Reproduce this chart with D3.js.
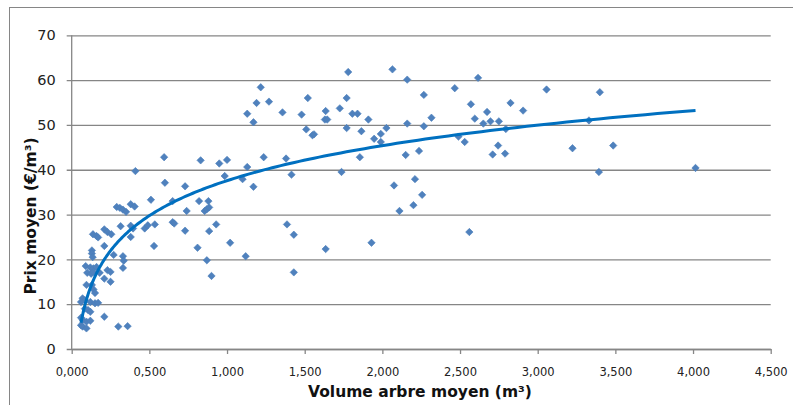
<!DOCTYPE html>
<html>
<head>
<meta charset="utf-8">
<script src="https://cdn.jsdelivr.net/npm/d3@7/dist/d3.min.js"></script>
<style>
  html, body { margin: 0; padding: 0; background: #fff; }
  svg { display: block; }
</style>
</head>
<body>
<svg id="chart" width="793" height="405"></svg>
<script>
// ---- data ----
const volume = [
  0.06,0.07,0.095,0.06,0.07,0.095,0.12,0.085,0.105,0.12,
  0.07,0.085,0.06,0.12,0.15,0.17,0.095,0.13,0.14,0.15,
  0.09,0.12,0.14,0.16,0.10,0.125,0.14,0.18,0.13,0.13,
  0.135,0.137,0.16,0.17,0.21,0.23,0.255,0.21,0.27,0.23,
  0.25,0.21,0.25,0.21,0.30,0.36,
  0.33,0.335,0.33,0.315,0.29,0.31,0.33,0.35,0.38,0.405,
  0.38,0.395,0.38,0.47,0.49,0.535,0.53,0.51,0.41,0.595,
  0.60,0.65,0.65,0.66,0.73,0.74,0.73,0.81,0.82,0.83,
  0.856,0.87,0.885,0.88,0.885,0.93,0.87,0.90,0.95,1.00,
  0.985,1.02,1.12,1.10,1.13,1.17,1.236,1.13,1.17,1.19,
  1.217,1.27,1.357,1.38,1.415,1.386,1.43,1.43,1.48,1.52,
  1.51,1.55,1.56,1.635,1.63,1.645,1.635,1.726,1.77,1.78,
  1.77,1.737,1.807,1.84,1.855,1.865,1.91,1.947,1.99,1.99,
  2.026,1.93,2.065,2.075,2.11,2.16,2.16,2.15,2.20,2.21,
  2.236,2.256,2.267,2.267,2.316,2.466,2.49,2.53,2.56,2.57,
  2.595,2.616,2.65,2.674,2.696,2.75,2.795,2.745,2.71,2.79,
  2.825,2.906,3.057,3.224,3.33,3.40,3.394,3.486,4.016
];
const prix = [
  5.3,5.0,4.6,7.0,6.5,6.1,6.3,9.0,8.7,8.3,
  11.3,10.9,10.5,10.5,10.2,10.3,14.3,14.3,13.3,12.5,
  18.5,18.2,18.0,18.3,17.0,16.8,17.2,17.0,22.0,21.3,
  20.5,25.6,25.2,24.9,26.7,26.1,25.6,23.0,21.0,17.6,
  17.2,15.7,15.0,7.2,5.0,5.1,
  20.7,19.7,18.1,27.4,31.7,31.5,31.1,30.6,32.3,31.8,
  27.5,26.9,25.0,26.9,27.6,27.8,23.0,33.3,39.7,42.8,
  37.1,33.0,28.3,28.0,36.3,30.8,26.4,22.6,33.0,42.1,
  30.8,31.2,31.6,33.0,26.3,27.8,19.8,16.3,41.4,42.2,
  38.6,23.7,20.7,37.9,40.6,36.2,42.8,52.5,50.6,54.9,
  58.4,55.2,52.8,42.5,38.9,27.8,25.5,17.1,52.3,56.0,
  49.0,47.7,47.9,53.1,51.2,51.2,22.3,53.7,56.0,61.8,
  49.3,39.5,52.5,52.5,42.8,48.6,51.2,46.9,46.2,48.0,
  49.3,23.7,62.4,36.5,30.8,60.1,50.3,43.3,32.1,37.9,
  44.2,34.4,56.7,49.7,51.6,58.2,47.4,46.2,26.1,54.6,
  51.4,60.5,50.3,52.9,50.8,50.8,49.1,45.4,43.4,43.6,
  54.9,53.2,57.9,44.8,51.0,57.3,39.5,45.4,40.4
];
const xTicks = [0, 0.5, 1, 1.5, 2, 2.5, 3, 3.5, 4, 4.5];
const yTicks = [0, 10, 20, 30, 40, 50, 60, 70];
const xTitle = "Volume arbre moyen (m³)";
const yTitle = "Prix moyen (€/m³)";

const points = volume.map((v, i) => ({ x: v, y: prix[i] }));

// logarithmic trend line (least squares of y on ln x), as the spreadsheet does
const lx = points.map(p => Math.log(p.x));
const n = points.length;
const mx = d3.mean(lx), my = d3.mean(points, p => p.y);
let sxy = 0, sxx = 0;
for (let i = 0; i < n; i++) { sxy += (lx[i] - mx) * (points[i].y - my); sxx += (lx[i] - mx) ** 2; }
const slope = sxy / sxx, intercept = my - slope * mx;
const [xmin, xmax] = d3.extent(volume);
const trend = d3.range(0, 201).map(i => {
  const xv = xmin * Math.pow(xmax / xmin, i / 200);
  return { x: xv, y: slope * Math.log(xv) + intercept };
});

// ---- layout ----
const svg = d3.select("#chart");
const pLeft = 71.7, pRight = 770.7, pTop = 35.3, pBottom = 349;
const x = d3.scaleLinear().domain([0, 4.5]).range([pLeft, pRight]);
const y = d3.scaleLinear().domain([0, 70]).range([pBottom, pTop]);
const grey = "#868686";
const fmt = d => d.toFixed(3).replace(".", ",");

// outer chart border
svg.append("rect").attr("x", 9.5).attr("y", 7.5).attr("width", 900).attr("height", 500)
  .attr("fill", "none").attr("stroke", grey).attr("stroke-width", 1);

// y axis with gridlines
const yAxis = svg.append("g").attr("transform", `translate(${pLeft},0)`)
  .call(d3.axisLeft(y).tickValues(yTicks).tickSize(-(pRight - pLeft)).tickSizeOuter(0).tickPadding(11).tickFormat(d3.format("d")));
yAxis.select(".domain").remove();
yAxis.selectAll(".tick line").attr("stroke", grey).attr("stroke-width", 1.3).attr("x1", -5);
yAxis.selectAll(".tick text").attr("font-family", "DejaVu Sans, Verdana, sans-serif")
  .attr("font-size", 14.5).attr("fill", "#222").attr("x", -16);

// x axis
const xAxis = svg.append("g").attr("transform", `translate(0,${pBottom})`)
  .call(d3.axisBottom(x).tickValues(xTicks).tickSize(5).tickSizeOuter(0).tickPadding(14).tickFormat(fmt));
xAxis.select(".domain").attr("stroke", grey).attr("stroke-width", 1.3);
xAxis.selectAll(".tick line").attr("stroke", grey).attr("stroke-width", 1.3);
xAxis.selectAll(".tick text").attr("font-family", "DejaVu Sans, Verdana, sans-serif")
  .attr("font-size", 11.5).attr("fill", "#222");

// y axis line
svg.append("line").attr("x1", pLeft).attr("x2", pLeft).attr("y1", pTop).attr("y2", pBottom)
  .attr("stroke", grey).attr("stroke-width", 1.3);

// points
const diamond = "M0,-3.7L3.7,0L0,3.7L-3.7,0Z";
svg.append("g").selectAll("path").data(points).join("path")
  .attr("d", diamond)
  .attr("transform", d => `translate(${x(d.x)},${y(d.y)})`)
  .attr("fill", "#4f81bd").attr("stroke", "#4a7ebb").attr("stroke-width", 0.6);

// trend line
svg.append("path").datum(trend)
  .attr("d", d3.line().x(d => x(d.x)).y(d => y(d.y)))
  .attr("fill", "none").attr("stroke", "#0070c0").attr("stroke-width", 3);

// titles
svg.append("text").attr("x", 420).attr("y", 397).attr("text-anchor", "middle")
  .attr("font-family", "DejaVu Sans, Verdana, sans-serif").attr("font-weight", "bold")
  .attr("font-size", 15.5).attr("fill", "#111").text(xTitle);
svg.append("text").attr("transform", "translate(36,216) rotate(-90)").attr("text-anchor", "middle")
  .attr("font-family", "DejaVu Sans, Verdana, sans-serif").attr("font-weight", "bold")
  .attr("font-size", 15.5).attr("fill", "#111").text(yTitle);
</script>
</body>
</html>
